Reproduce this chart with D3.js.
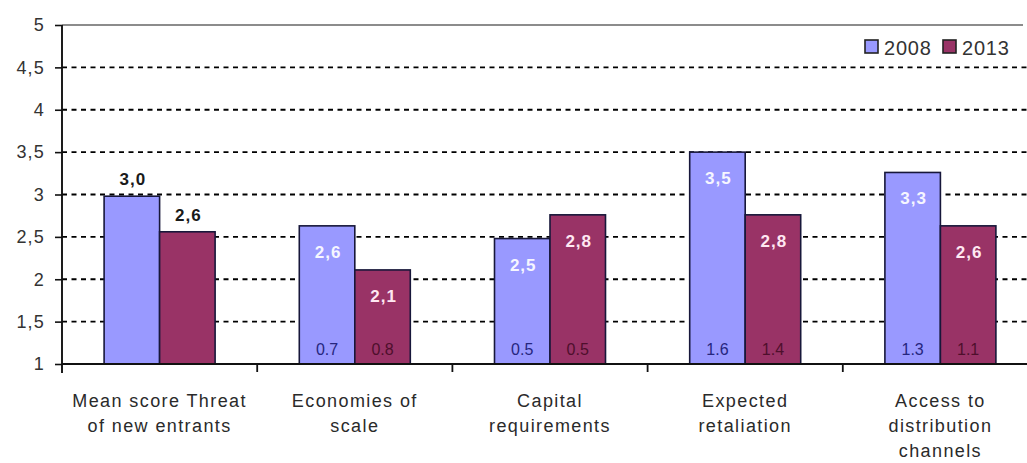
<!DOCTYPE html>
<html>
<head>
<meta charset="utf-8">
<script src="https://cdn.jsdelivr.net/npm/d3@7"></script>
<style>
  html, body { margin: 0; padding: 0; background: #ffffff; }
  svg { display: block; font-family: Arial, "Liberation Sans", sans-serif; }
</style>
</head>
<body>
<svg id="chart" width="1027" height="463"></svg>
<script>
// Barriers to entry: mean scores 2008 vs 2013, with standard deviations
const categories = [
  "Mean score Threat of new entrants",
  "Economies of scale",
  "Capital requirements",
  "Expected retaliation",
  "Access to distribution channels"
];
const categoryLines = [
  ["Mean score Threat", "of new entrants"],
  ["Economies of", "scale"],
  ["Capital", "requirements"],
  ["Expected", "retaliation"],
  ["Access to", "distribution", "channels"]
];
const seriesNames = ["2008", "2013"];
const mean2008 = [2.98, 2.63, 2.48, 3.50, 3.26];
const mean2013 = [2.56, 2.11, 2.76, 2.76, 2.63];
const sd2008 = [null, 0.7, 0.5, 1.6, 1.3];
const sd2013 = [null, 0.8, 0.5, 1.4, 1.1];
const yTicks = [1, 1.5, 2, 2.5, 3, 3.5, 4, 4.5, 5];

const fills = { "2008": "#9999ff", "2013": "#993366" };
const insideLabelColor = { "2008": "#f6f6ff", "2013": "#ffe8f2" };
const sdColor = { "2008": "#26267e", "2013": "#4e0f2c" };

const svg = d3.select("#chart");
const axisX = 62, plotTop = 25, plotBottom = 364, step = 195.2;

const y = d3.scaleLinear().domain([1, 5]).range([plotBottom, plotTop]);
const x0 = d3.scaleBand().domain(categories)
  .range([axisX, axisX + step * categories.length]).padding(0);
const barW = 55.5;
const x1 = d3.scaleBand().domain(seriesNames)
  .range([x0.bandwidth() / 2 - barW, x0.bandwidth() / 2 + barW]).padding(0);

const comma = v => d3.format(".1f")(v).replace(".", ",");
const dot = d3.format(".1f");

// top border line
svg.append("line")
  .attr("x1", axisX).attr("x2", 1023)
  .attr("y1", y(5)).attr("y2", y(5))
  .attr("stroke", "#8c8c8c").attr("stroke-width", 1.8);

// dashed gridlines
svg.append("g").selectAll("line")
  .data(yTicks.filter(t => t > 1 && t < 5))
  .join("line")
  .attr("x1", axisX).attr("x2", 1027)
  .attr("y1", d => y(d)).attr("y2", d => y(d))
  .attr("stroke", "#000").attr("stroke-width", 1.8)
  .attr("stroke-dasharray", "5,4.5");

// bars
const rows = categories.map((c, i) => ({
  cat: c, i,
  vals: [
    { s: "2008", v: mean2008[i], sd: sd2008[i] },
    { s: "2013", v: mean2013[i], sd: sd2013[i] }
  ]
}));

const groups = svg.append("g").selectAll("g")
  .data(rows).join("g")
  .attr("transform", d => `translate(${x0(d.cat)},0)`);

groups.selectAll("rect")
  .data(d => d.vals.map(v => ({ ...v, i: d.i })))
  .join("rect")
  .attr("x", d => x1(d.s))
  .attr("width", x1.bandwidth())
  .attr("y", d => y(d.v))
  .attr("height", d => y(1) - y(d.v))
  .attr("fill", d => fills[d.s])
  .attr("stroke", "#17173a")
  .attr("stroke-width", 1.6);

// value labels: above bars for the overall score, inside for the rest
groups.selectAll("text.val")
  .data(d => d.vals.map(v => ({ ...v, i: d.i })))
  .join("text")
  .attr("class", "val")
  .attr("x", d => x1(d.s) + x1.bandwidth() / 2 + 1)
  .attr("y", d => d.i === 0 ? y(d.v) - 11 : y(d.v) + 32)
  .attr("text-anchor", "middle")
  .attr("font-size", 17).attr("font-weight", "bold")
  .attr("letter-spacing", 1)
  .attr("fill", d => d.i === 0 ? "#1a1a1a" : insideLabelColor[d.s])
  .text(d => comma(d.v));

// standard deviations at the base of each bar
groups.selectAll("text.sd")
  .data(d => d.vals.filter(v => v.sd != null))
  .join("text")
  .attr("class", "sd")
  .attr("x", d => x1(d.s) + x1.bandwidth() / 2)
  .attr("y", y(1) - 9)
  .attr("text-anchor", "middle")
  .attr("font-size", 16)
  .attr("fill", d => sdColor[d.s])
  .text(d => dot(d.sd));

// y axis
const yAxis = d3.axisLeft(y).tickValues(yTicks).tickSize(7).tickPadding(10)
  .tickFormat(d => String(d).replace(".", ","));
const gy = svg.append("g").attr("transform", `translate(${axisX},0)`).call(yAxis);
gy.select(".domain").remove();
gy.selectAll(".tick line").attr("stroke", "#111").attr("stroke-width", 1.6);
gy.selectAll(".tick text")
  .attr("font-size", 18).attr("letter-spacing", 1.2)
  .attr("fill", "#333").attr("font-family", "Arial, 'Liberation Sans', sans-serif");
svg.append("line")
  .attr("x1", axisX).attr("x2", axisX)
  .attr("y1", plotTop).attr("y2", plotBottom + 9)
  .attr("stroke", "#111").attr("stroke-width", 1.9);

// x axis
svg.append("line")
  .attr("x1", axisX).attr("x2", 1027)
  .attr("y1", plotBottom).attr("y2", plotBottom)
  .attr("stroke", "#111").attr("stroke-width", 1.8);
svg.append("g").selectAll("line")
  .data(categories.slice(1))
  .join("line")
  .attr("x1", d => x0(d)).attr("x2", d => x0(d))
  .attr("y1", plotBottom).attr("y2", plotBottom + 8)
  .attr("stroke", "#111").attr("stroke-width", 1.8);

// category labels
const labelG = svg.append("g").selectAll("text")
  .data(rows).join("text")
  .attr("text-anchor", "middle")
  .attr("font-size", 18).attr("letter-spacing", 1.4)
  .attr("fill", "#2a2a2a");
labelG.selectAll("tspan")
  .data(d => categoryLines[d.i].map(l => ({ l, c: d.cat })))
  .join("tspan")
  .attr("x", d => x0(d.c) + x0.bandwidth() / 2)
  .attr("y", (d, j) => 407 + j * 25)
  .text(d => d.l);

// legend
const legend = svg.append("g").selectAll("g")
  .data(seriesNames).join("g")
  .attr("transform", (d, i) => `translate(${865 + i * 78},40)`);
legend.append("rect")
  .attr("width", 13).attr("height", 13)
  .attr("fill", d => fills[d])
  .attr("stroke", "#222").attr("stroke-width", 1.6);
legend.append("text")
  .attr("x", 19).attr("y", 14.5)
  .attr("font-size", 20).attr("letter-spacing", 0.8)
  .attr("fill", "#333")
  .text(d => d);
</script>
</body>
</html>
